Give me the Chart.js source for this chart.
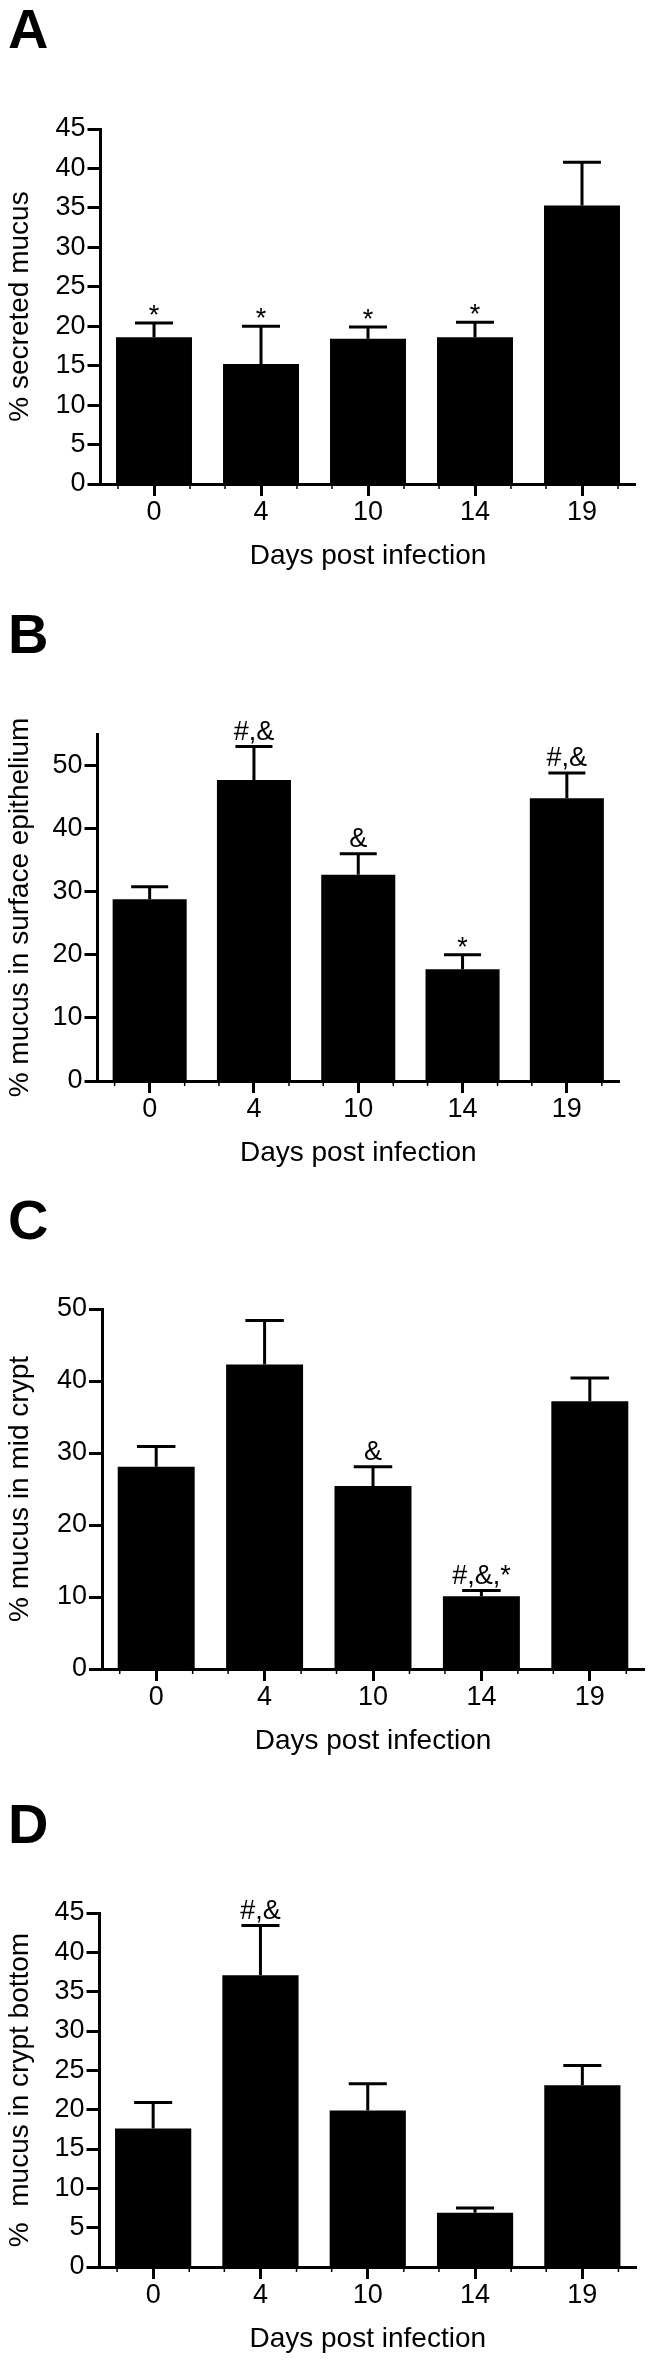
<!DOCTYPE html>
<html>
<head>
<meta charset="utf-8">
<script src="https://cdn.jsdelivr.net/npm/chart.js@4.4.1/dist/chart.umd.min.js"></script>
<style>
  html, body { margin: 0; padding: 0; background: #fff; }
  body { width: 651px; height: 2363px; position: relative; overflow: hidden; font-family: 'Liberation Sans', Arial, sans-serif; }
  canvas { position: absolute; left: 0; }
  .letter { position: absolute; left: 8px; font-weight: bold; font-size: 56px; line-height: 1; color: #000; z-index: 2; }
</style>
</head>
<body>
<div class="letter" style="top:1px">A</div>
<div class="letter" style="top:606px">B</div>
<div class="letter" style="top:1192px">C</div>
<div class="letter" style="top:1796px">D</div>
<canvas id="chartA" width="651" height="584" style="top:0px"></canvas>
<canvas id="chartB" width="651" height="591" style="top:590px"></canvas>
<canvas id="chartC" width="651" height="584" style="top:1185px"></canvas>
<canvas id="chartD" width="651" height="588" style="top:1775px"></canvas>
<script>
const days = ['0', '4', '10', '14', '19'];

// A - secreted mucus
const secretedMean = [18.6, 15.2, 18.4, 18.6, 35.3];
const secretedErr = [1.8, 4.8, 1.5, 1.9, 5.5];
const secretedMarks = ['*', '*', '*', '*', ''];
const secretedTicks = [0, 5, 10, 15, 20, 25, 30, 35, 40, 45];

// B - surface epithelium
const surfaceMean = [28.8, 47.7, 32.7, 17.7, 44.8];
const surfaceErr = [2.0, 5.3, 3.3, 2.3, 4.0];
const surfaceMarks = ['', '#,&', '&', '*', '#,&'];
const surfaceTicks = [0, 10, 20, 30, 40, 50];

// C - mid crypt
const midMean = [28.1, 42.3, 25.4, 10.1, 37.2];
const midErr = [2.8, 6.1, 2.7, 0.8, 3.2];
const midMarks = ['', '', '&', '#,&,*', ''];
const midTicks = [0, 10, 20, 30, 40, 50];

// D - crypt bottom
const bottomMean = [17.6, 37.1, 19.9, 6.9, 23.1];
const bottomErr = [3.3, 6.3, 3.4, 0.6, 2.5];
const bottomMarks = ['', '#,&', '', '', ''];
const bottomTicks = [0, 5, 10, 15, 20, 25, 30, 35, 40, 45];

const FONT = "'Liberation Sans', Arial, sans-serif";
Chart.defaults.color = '#000';
Chart.defaults.font.family = FONT;

const errorBars = {
    id: 'errorBars',
    afterDatasetsDraw(chart, args, opts) {
        const ctx = chart.ctx;
        const meta = chart.getDatasetMeta(0);
        const yScale = chart.scales.y;
        const data = chart.data.datasets[0].data;
        const base = chart.chartArea.bottom;
        ctx.save();
        ctx.strokeStyle = '#000';
        ctx.fillStyle = '#000';
        meta.data.forEach((bar, i) => {
            const yTop = yScale.getPixelForValue(data[i] + opts.errors[i]);
            const half = bar.width / 4;
            ctx.lineWidth = 3;
            ctx.beginPath();
            ctx.moveTo(bar.x, bar.y);
            ctx.lineTo(bar.x, yTop);
            ctx.moveTo(bar.x - half, yTop);
            ctx.lineTo(bar.x + half, yTop);
            ctx.stroke();

            // little ticks under the bar edges
            ctx.lineWidth = 1.5;
            ctx.beginPath();
            [bar.x - bar.width / 2 + 2, bar.x + bar.width / 2 - 2].forEach(px => {
                ctx.moveTo(px, base);
                ctx.lineTo(px, base + 5);
            });
            ctx.stroke();

            const mark = opts.marks[i];
            if (mark) {
                ctx.font = '27px ' + FONT;
                ctx.textAlign = 'center';
                ctx.textBaseline = 'alphabetic';
                ctx.fillText(mark, bar.x, mark === '*' ? yTop + 1 : yTop - 7);
            }
        });
        ctx.restore();
    }
};

function makePanel(id, p) {
    const xh = p.xh || 100;
    new Chart(document.getElementById(id), {
        type: 'bar',
        data: {
            labels: days,
            datasets: [{
                data: p.mean,
                backgroundColor: '#000',
                borderWidth: 0,
                barPercentage: 0.71,
                categoryPercentage: 1.0
            }]
        },
        options: {
            responsive: false,
            animation: false,
            layout: { padding: { top: p.top, right: 651 - p.right, bottom: 0, left: 0 } },
            plugins: {
                legend: { display: false },
                tooltip: { enabled: false },
                errorBars: { errors: p.err, marks: p.marks }
            },
            scales: {
                x: {
                    grid: { offset: false, drawOnChartArea: false, drawTicks: true, tickLength: 12, tickWidth: 3, color: '#000', tickColor: '#000' },
                    border: { display: true, width: 3, color: '#000' },
                    ticks: { font: { size: 27 }, padding: 0, maxRotation: 0, color: '#000' },
                    title: { display: true, text: 'Days post infection', font: { size: 28 }, padding: { top: 0, bottom: xh - 72 - 16.8 }, color: '#000' },
                    afterFit: s => { s.height = xh; }
                },
                y: {
                    min: 0,
                    max: p.max,
                    grid: { drawOnChartArea: false, drawTicks: true, tickLength: 13, tickWidth: 3, color: '#000', tickColor: '#000' },
                    border: { display: true, width: 3, color: '#000' },
                    ticks: { font: { size: 27 }, padding: 2, color: '#000' },
                    afterBuildTicks: s => { s.ticks = p.ticks.map(v => ({ value: v })); },
                    title: { display: true, text: p.yTitle, font: { size: 28 }, padding: { top: 3, bottom: 0 }, color: '#000' },
                    afterFit: s => { s.width = p.left; }
                }
            }
        },
        plugins: [errorBars]
    });
}

makePanel('chartA', { mean: secretedMean, err: secretedErr, marks: secretedMarks, ticks: secretedTicks, max: 45,
    yTitle: '% secreted mucus', left: 100.5, right: 635.5, top: 129 });
makePanel('chartB', { mean: surfaceMean, err: surfaceErr, marks: surfaceMarks, ticks: surfaceTicks, max: 55,
    yTitle: '% mucus in surface epithelium', left: 97.5, right: 619, top: 144 });
makePanel('chartC', { mean: midMean, err: midErr, marks: midMarks, ticks: midTicks, max: 50,
    yTitle: '% mucus in mid crypt', left: 102, right: 644, top: 124 });
makePanel('chartD', { mean: bottomMean, err: bottomErr, marks: bottomMarks, ticks: bottomTicks, max: 45,
    yTitle: '%  mucus in crypt bottom', left: 99.5, right: 636, top: 138, xh: 96 });
</script>
</body>
</html>
